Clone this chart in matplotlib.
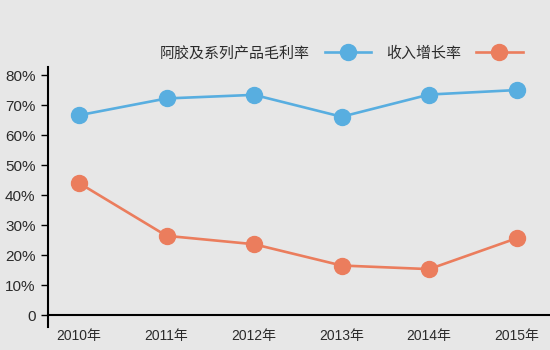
import matplotlib
matplotlib.use("Agg")
import matplotlib.pyplot as plt

plt.rcParams['font.family'] = ['Liberation Sans', 'Noto Sans CJK SC']

years = [2010, 2011, 2012, 2013, 2014, 2015]
year_labels = ["2010年", "2011年", "2012年", "2013年", "2014年", "2015年"]
gross_margin = [66.6, 72.2, 73.4, 66.1, 73.5, 75.0]
revenue_growth = [44.0, 26.4, 23.6, 16.5, 15.3, 25.6]
y_ticks = [0, 10, 20, 30, 40, 50, 60, 70, 80]
y_labels = ["0", "10%", "20%", "30%", "40%", "50%", "60%", "70%", "80%"]

bg = "#e7e7e7"
blue = "#58aee0"
orange = "#eb7d5d"
txt = "#2b2b2b"

fig = plt.figure(figsize=(5.5, 3.5), dpi=100, facecolor=bg)
ax = fig.add_axes([0.0873, 0.0657, 0.9127, 0.743])
ax.set_facecolor(bg)

ax.plot(years, gross_margin, color=blue, lw=1.9, marker="o", ms=11.5,
        label="阿胶及系列产品毛利率", zorder=3)
ax.plot(years, revenue_growth, color=orange, lw=1.9, marker="o", ms=11.5,
        label="收入增长率", zorder=3)

ax.set_xlim(2009.646, 2015.38)
ax.set_ylim(-4, 82.7)

for s in ["top", "right"]:
    ax.spines[s].set_visible(False)
ax.spines["bottom"].set_position(("data", 0))
ax.spines["left"].set_bounds(-4, 82.7)
ax.spines["left"].set_color("black")
ax.spines["bottom"].set_color("black")
ax.spines["left"].set_linewidth(1.5)
ax.spines["bottom"].set_linewidth(1.5)

ax.set_yticks(y_ticks)
ax.set_yticklabels(y_labels)
ax.set_xticks(years)
ax.set_xticklabels(year_labels)
ax.tick_params(axis="y", length=5, width=1, color="black", pad=4,
               labelsize=11, labelcolor=txt)
ax.tick_params(axis="x", length=0, pad=10, labelsize=10, labelcolor=txt)

# legend: text first, then line+marker
leg = fig.legend(loc="center right", bbox_to_anchor=(0.95, 0.847), ncol=2,
                 markerfirst=False, frameon=False, fontsize=10.8,
                 borderpad=0, borderaxespad=0,
                 handlelength=3.1, columnspacing=1.0, handletextpad=1.0)
for t in leg.get_texts():
    t.set_color(txt)

fig.savefig("out.png", dpi=100, facecolor=bg)
